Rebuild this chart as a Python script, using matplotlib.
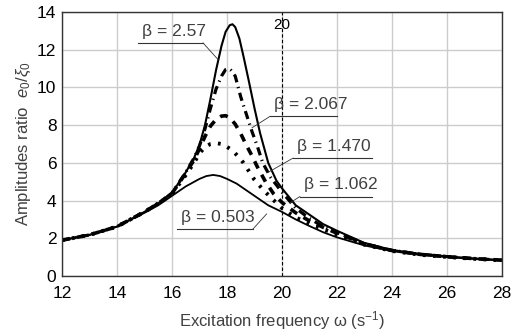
import matplotlib
matplotlib.use("Agg")
import matplotlib.pyplot as plt

plt.rcParams['font.family'] = ['Liberation Sans', 'DejaVu Sans']
plt.rcParams['mathtext.fontset'] = 'custom'
plt.rcParams['mathtext.rm'] = 'Liberation Sans'
plt.rcParams['mathtext.it'] = 'Liberation Sans:italic'

# beta = 2.57 (solid, tallest)
x257 = [12, 13, 14, 15, 15.5, 16, 16.5, 16.8, 17.0, 17.2, 17.4, 17.6, 17.8, 17.95, 18.1, 18.2, 18.3,
        18.45, 18.6, 18.8, 19.0, 19.2, 19.5, 19.8, 20.0, 20.5, 21, 21.5, 22, 23, 24, 25, 26, 27, 28]
y257 = [1.90, 2.18, 2.62, 3.40, 3.85, 4.40, 5.50, 6.25, 6.95, 8.0, 9.4, 10.9, 12.2, 12.95, 13.3, 13.35, 13.2,
        12.6, 11.65, 10.3, 8.9, 7.6, 6.0, 5.05, 4.65, 3.75, 3.25, 2.75, 2.4, 1.75, 1.38, 1.18, 1.04, 0.93, 0.85]

# beta = 2.067 (dash-dot)
x2067 = [12, 13, 14, 15, 15.5, 16, 16.5, 16.8, 17.0, 17.2, 17.4, 17.6, 17.8, 17.95, 18.05, 18.15, 18.3,
         18.5, 18.7, 18.9, 19.1, 19.3, 19.6, 20.0, 20.5, 21, 21.5, 22, 23, 24, 25, 26, 27, 28]
y2067 = [1.90, 2.18, 2.62, 3.40, 3.85, 4.40, 5.50, 6.25, 6.9, 7.8, 8.9, 9.9, 10.6, 10.95, 11.0, 10.9, 10.6,
         9.5, 8.6, 7.7, 6.9, 6.0, 5.2, 4.45, 3.6, 3.05, 2.62, 2.3, 1.72, 1.36, 1.16, 1.03, 0.92, 0.84]

# beta = 1.470 (dashed)
x1470 = [12, 13, 14, 15, 15.5, 16, 16.5, 16.8, 17.0, 17.2, 17.4, 17.6, 17.8, 17.95, 18.1, 18.3, 18.5,
         18.7, 18.9, 19.1, 19.4, 19.7, 20.0, 20.5, 21, 21.5, 22, 23, 24, 25, 26, 27, 28]
y1470 = [1.90, 2.18, 2.62, 3.40, 3.85, 4.38, 5.45, 6.15, 6.75, 7.4, 7.95, 8.3, 8.48, 8.5, 8.4, 8.05, 7.55,
         6.95, 6.4, 5.8, 5.0, 4.35, 3.9, 3.35, 2.92, 2.58, 2.27, 1.7, 1.35, 1.15, 1.02, 0.92, 0.84]

# beta = 1.062 (dotted)
x1062 = [12, 13, 14, 15, 15.5, 16, 16.5, 16.8, 17.0, 17.2, 17.4, 17.6, 17.8, 18.0, 18.2, 18.4, 18.6,
         18.8, 19.0, 19.3, 19.6, 20.0, 20.5, 21, 21.5, 22, 23, 24, 25, 26, 27, 28]
y1062 = [1.90, 2.18, 2.62, 3.40, 3.85, 4.35, 5.35, 6.0, 6.5, 6.85, 7.0, 7.05, 7.0, 6.85, 6.65, 6.35, 6.0,
         5.55, 5.1, 4.6, 4.15, 3.6, 3.1, 2.78, 2.48, 2.2, 1.66, 1.33, 1.13, 1.01, 0.91, 0.83]

# beta = 0.503 (solid, lowest)
x0503 = [12, 13, 14, 15, 15.5, 16, 16.5, 17.0, 17.25, 17.5, 17.75, 18.0, 18.35, 18.7, 19.0, 19.5,
         20.0, 20.5, 21, 21.5, 22, 23, 24, 25, 26, 27, 28]
y0503 = [1.90, 2.18, 2.62, 3.35, 3.75, 4.25, 4.75, 5.15, 5.3, 5.36, 5.3, 5.15, 4.9, 4.55, 4.25, 3.75,
         3.4, 3.0, 2.65, 2.32, 2.05, 1.62, 1.32, 1.12, 1.0, 0.9, 0.82]

# label text, underline (x0, x1, y) and leader end point
labels = ['β = 2.57', 'β = 2.067', 'β = 1.470', 'β = 1.062', 'β = 0.503']
ul_x0 = [14.76, 19.56, 20.40, 20.65, 16.18]
ul_x1 = [17.13, 22.00, 23.27, 23.27, 18.95]
ul_y = [12.36, 8.46, 6.25, 4.21, 2.50]
lead_x = [17.68, 18.91, 19.50, 20.29, 19.44]
lead_y = [11.47, 7.86, 5.50, 3.88, 3.29]
lead_from = ['right', 'left', 'left', 'left', 'right']

fig = plt.figure(figsize=(5.18, 3.35), dpi=100)
ax = fig.add_axes([0.1197, 0.1761, 0.8493, 0.7881])

ax.plot(x0503, y0503, color='black', lw=1.3)
ax.plot(x1062, y1062, color='black', lw=2.8, linestyle=(0, (0.7, 1.9)), dash_capstyle='butt')
ax.plot(x1470, y1470, color='black', lw=2.6, linestyle=(0, (2.2, 2.0)))
ax.plot(x2067, y2067, color='black', lw=2.3, linestyle=(0, (2.6, 1.5, 0.4, 1.5)))
ax.plot(x257, y257, color='black', lw=1.5)

ax.axvline(20, color='black', lw=0.8, linestyle=(0, (3, 2)))
ax.text(20, 13.33, '20', ha='center', va='center', fontsize=11, color='black')

for i in range(len(labels)):
    ax.plot([ul_x0[i], ul_x1[i]], [ul_y[i], ul_y[i]], color='#333333', lw=0.8)
    sx = ul_x1[i] if lead_from[i] == 'right' else ul_x0[i]
    ax.plot([sx, lead_x[i]], [ul_y[i], lead_y[i]], color='#333333', lw=0.6)
    ax.text(ul_x0[i] + 0.15, ul_y[i] + 0.22, labels[i], ha='left', va='bottom',
            fontsize=12.5, color='#404040')

ax.set_xlim(12, 28)
ax.set_ylim(0, 14)
ax.set_xticks(range(12, 29, 2))
ax.set_yticks(range(0, 15, 2))
ax.grid(True, color='#cccccc', lw=1)
ax.set_axisbelow(True)
ax.tick_params(length=0, labelsize=12.5)
ax.tick_params(axis='x', pad=7)
ax.tick_params(axis='y', pad=4)
for s in ax.spines.values():
    s.set_color('#333333')
    s.set_linewidth(1)

ax.set_xlabel('Excitation frequency ω (s$^{-1}$)', fontsize=12, color='#404040', labelpad=6)
ax.set_ylabel('Amplitudes ratio  $e_0/\\xi_0$', fontsize=12, color='#404040', labelpad=3)

fig.savefig('out.png', dpi=100)
